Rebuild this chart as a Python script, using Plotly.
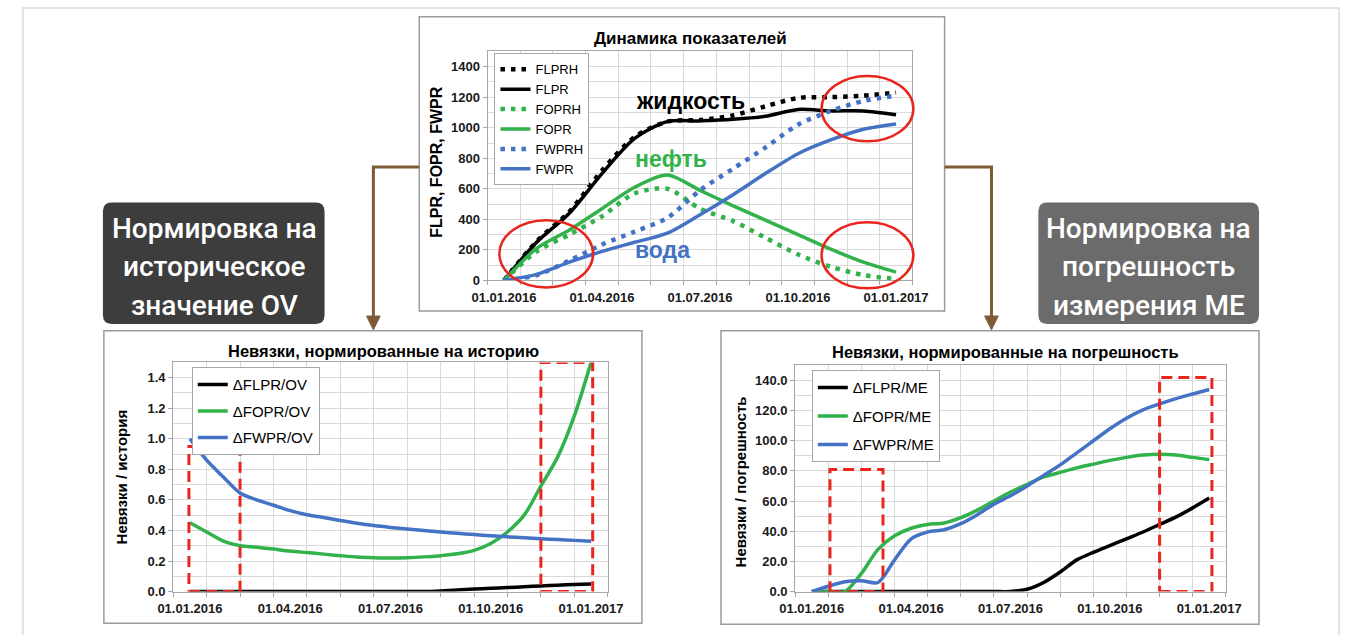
import plotly.graph_objects as go

W, H = 1359, 643

def fx(px):
    return px / W

def fy(py):
    return 1 - py / H

# ---------------- data ----------------
TICK_POS = [0, 3, 6, 9, 12]
TICK_TEXT = ["01.01.2016", "01.04.2016", "01.07.2016", "01.10.2016", "01.01.2017"]

MONTHS = list(range(13))  # months since 01.01.2016
FLPRH = [0, 255, 450, 720, 940, 1040, 1050, 1080, 1140, 1195, 1200, 1210, 1230]
FLPR = [0, 250, 440, 700, 930, 1040, 1045, 1055, 1075, 1120, 1110, 1110, 1085]
FOPRH = [0, 190, 300, 420, 570, 600, 470, 390, 280, 170, 90, 35, 10]
FOPR = [0, 210, 330, 470, 610, 690, 590, 490, 395, 300, 205, 120, 55]
FWPRH = [0, 35, 130, 235, 320, 410, 590, 730, 870, 1020, 1110, 1175, 1210]
FWPR = [0, 40, 120, 190, 250, 310, 430, 560, 700, 830, 920, 990, 1025]

HALF = [i / 2 for i in range(25)]
D_FLPR_OV = [0] * 15 + [0.004, 0.01, 0.016, 0.021, 0.026, 0.031, 0.037, 0.042, 0.046, 0.05]
D_FOPR_OV = [0.45, 0.39, 0.33, 0.30, 0.29, 0.278, 0.265, 0.255, 0.245, 0.235, 0.226, 0.222, 0.22,
             0.222, 0.227, 0.235, 0.247, 0.27, 0.315, 0.39, 0.5, 0.69, 0.88, 1.15, 1.5]
D_FWPR_OV = [1.0, 0.86, 0.75, 0.645, 0.6, 0.565, 0.53, 0.503, 0.485, 0.465, 0.447, 0.432, 0.42,
             0.41, 0.4, 0.39, 0.381, 0.373, 0.365, 0.358, 0.352, 0.346, 0.34, 0.335, 0.33]

D_FLPR_ME = [0] * 13 + [1.5, 6, 13, 21, 26, 30.5, 35, 39.5, 44.5, 49.5, 55.5, 62]
D_FOPR_ME = [0, 0, 0, 12, 28, 37, 42, 44.5, 45.5, 49, 54, 60, 66, 71, 76, 79, 82, 84.5, 87, 89,
             90.5, 91, 90.5, 89, 87.5]
D_FWPR_ME = [0, 3.5, 6.5, 7.2, 6, 21, 35, 39.5, 41, 45, 51, 58, 63.5, 70, 77, 84, 92, 100, 108,
             115, 120.5, 124.5, 128, 131, 134]

# ---------------- styling ----------------
BLACK = "#000000"
GREEN = "#32b24a"
BLUE = "#4472c4"
RED = "#e8261f"
BROWN = "#7d5b34"
GRID = "#d9d9d9"
AXIS = "#a6a6a6"
FONT = "Liberation Sans, Arial, sans-serif"

fig = go.Figure()

def line(x, y, name, color, dotted, xa, ya, leg, group):
    fig.add_trace(go.Scatter(
        x=x, y=y, name=name, mode="lines",
        line=dict(color=color, width=4.5 if dotted else 3.5,
                  dash="4.5px,6px" if dotted else "solid", shape="spline", smoothing=0.8),
        xaxis=xa, yaxis=ya, legend=leg, legendgroup=group, hoverinfo="skip"))

line(MONTHS, FLPRH, "FLPRH", BLACK, True, "x", "y", "legend", "a1")
line(MONTHS, FLPR, "FLPR", BLACK, False, "x", "y", "legend", "a2")
line(MONTHS, FOPRH, "FOPRH", GREEN, True, "x", "y", "legend", "a3")
line(MONTHS, FOPR, "FOPR", GREEN, False, "x", "y", "legend", "a4")
line(MONTHS, FWPRH, "FWPRH", BLUE, True, "x", "y", "legend", "a5")
line(MONTHS, FWPR, "FWPR", BLUE, False, "x", "y", "legend", "a6")

line(HALF, D_FLPR_OV, "ΔFLPR/OV", BLACK, False, "x2", "y2", "legend2", "b1")
line(HALF, D_FOPR_OV, "ΔFOPR/OV", GREEN, False, "x2", "y2", "legend2", "b2")
line(HALF, D_FWPR_OV, "ΔFWPR/OV", BLUE, False, "x2", "y2", "legend2", "b3")

line(HALF, D_FLPR_ME, "ΔFLPR/ME", BLACK, False, "x3", "y3", "legend3", "c1")
line(HALF, D_FOPR_ME, "ΔFOPR/ME", GREEN, False, "x3", "y3", "legend3", "c2")
line(HALF, D_FWPR_ME, "ΔFWPR/ME", BLUE, False, "x3", "y3", "legend3", "c3")

tickfont = dict(family=FONT, size=13, color="#1a1a1a", weight="bold")
minor_x = dict(tickvals=[i - 0.5 for i in range(14)], showgrid=True, gridcolor=GRID,
               gridwidth=1, ticks="outside", ticklen=4, tickcolor=AXIS)

def xaxis(dom):
    return dict(domain=dom, range=[-0.5, 12.5], tickmode="array", tickvals=TICK_POS,
                ticktext=TICK_TEXT, showgrid=False, zeroline=False, showline=True,
                linecolor=AXIS, linewidth=1, mirror=True, ticks="", tickfont=tickfont,
                ticklabelstandoff=5, minor=minor_x, fixedrange=True)

def yaxis(dom, rng, major, minor, fmt):
    return dict(domain=dom, range=rng, tickmode="array", tickvals=major, tickformat=fmt,
                showgrid=True, gridcolor=GRID, zeroline=False, showline=True, linecolor=AXIS,
                linewidth=1, mirror=True, ticks="outside", ticklen=4, tickcolor=AXIS,
                tickfont=tickfont,
                minor=dict(tickvals=minor, showgrid=True, gridcolor=GRID, gridwidth=1),
                fixedrange=True)

fig.update_layout(
    width=W, height=H, autosize=False,
    margin=dict(l=0, r=0, t=0, b=0),
    paper_bgcolor="white", plot_bgcolor="rgba(0,0,0,0)",
    font=dict(family=FONT, color="black"),
    xaxis=xaxis([fx(483), fx(918)]),
    yaxis=yaxis([fy(284), fy(52)], [0, 1500], list(range(0, 1401, 200)),
                list(range(100, 1501, 200)), "d"),
    xaxis2=xaxis([fx(161), fx(606)]) | dict(anchor="y2"),
    yaxis2=yaxis([fy(599), fy(367)], [0, 1.5], [i / 5 for i in range(8)],
                 [0.1 + i / 5 for i in range(8)], ".1f") | dict(anchor="x2"),
    xaxis3=xaxis([fx(798), fx(1239)]) | dict(anchor="y3"),
    yaxis3=yaxis([fy(599), fy(370)], [0, 150], list(range(0, 141, 20)),
                 list(range(10, 151, 20)), ".1f") | dict(anchor="x3"),
    legend=dict(x=fx(490), y=fy(54), xanchor="left", yanchor="top", bgcolor="white",
                bordercolor=AXIS, borderwidth=1, itemwidth=30, tracegroupgap=0,
                font=dict(family=FONT, size=13, color="black")),
    legend2=dict(x=fx(180), y=fy(372), xanchor="left", yanchor="top", bgcolor="white",
                 bordercolor=AXIS, borderwidth=1, itemwidth=30, tracegroupgap=4,
                 font=dict(family=FONT, size=15, color="black")),
    legend3=dict(x=fx(815), y=fy(375), xanchor="left", yanchor="top", bgcolor="white",
                 bordercolor=AXIS, borderwidth=1, itemwidth=30, tracegroupgap=6,
                 font=dict(family=FONT, size=15, color="black")),
    showlegend=True,
)

shapes = []
# outer light frame (no bottom edge)
shapes.append(dict(type="path", xref="paper", yref="paper",
                   path=f"M {fx(7)} {fy(643)} L {fx(7)} {fy(8)} L {fx(1355)} {fy(8)} L {fx(1355)} {fy(643)}",
                   line=dict(color="#e3e3e3", width=2), layer="below"))

# chart frames
for (x0, y0, x1, y1) in [(413, 17, 951, 315), (90, 335, 641, 631), (722, 335, 1273, 632)]:
    shapes.append(dict(type="rect", xref="paper", yref="paper", x0=fx(x0), x1=fx(x1),
                       y0=fy(y1), y1=fy(y0), line=dict(color="#9b9b9b", width=1.5),
                       fillcolor="rgba(0,0,0,0)", layer="below"))

# rounded label boxes
def rounded(x0, y0, x1, y1, r, color):
    p = (f"M {fx(x0 + r)} {fy(y0)} L {fx(x1 - r)} {fy(y0)} Q {fx(x1)} {fy(y0)} {fx(x1)} {fy(y0 + r)} "
         f"L {fx(x1)} {fy(y1 - r)} Q {fx(x1)} {fy(y1)} {fx(x1 - r)} {fy(y1)} "
         f"L {fx(x0 + r)} {fy(y1)} Q {fx(x0)} {fy(y1)} {fx(x0)} {fy(y1 - r)} "
         f"L {fx(x0)} {fy(y0 + r)} Q {fx(x0)} {fy(y0)} {fx(x0 + r)} {fy(y0)} Z")
    return dict(type="path", xref="paper", yref="paper", path=p, fillcolor=color,
                line=dict(width=0), layer="above")

shapes.append(rounded(89, 205, 316, 328, 9, "#3d3d3d"))
shapes.append(rounded(1047, 205, 1273, 328, 9, "#6b6b6b"))

# brown connector arrows
for (xs, xe) in [(413, 366), (951, 999)]:
    shapes.append(dict(type="path", xref="paper", yref="paper",
                       path=f"M {fx(xs)} {fy(169)} L {fx(xe)} {fy(169)} L {fx(xe)} {fy(322)}",
                       line=dict(color=BROWN, width=3), layer="above"))
    shapes.append(dict(type="path", xref="paper", yref="paper",
                       path=f"M {fx(xe - 7)} {fy(320)} L {fx(xe + 7)} {fy(320)} L {fx(xe)} {fy(334)} Z",
                       fillcolor=BROWN, line=dict(color=BROWN, width=1), layer="above"))

# red ellipses on top chart
for (x0, y0, x1, y1) in [(495, 223, 591, 291), (825, 77, 919, 143), (825, 225, 919, 292)]:
    shapes.append(dict(type="circle", xref="paper", yref="paper", x0=fx(x0), x1=fx(x1),
                       y0=fy(y1), y1=fy(y0), line=dict(color=RED, width=2.5), layer="above"))

# red dashed rectangles (data coordinates)
for (xr, yr, x0, x1, y1) in [("x2", "y2", -0.03, 1.5, 0.95), ("x2", "y2", 10.5, 12.05, 1.5),
                              ("x3", "y3", 0.55, 2.15, 81), ("x3", "y3", 10.5, 12.08, 142)]:
    shapes.append(dict(type="rect", xref=xr, yref=yr, x0=x0, x1=x1, y0=0, y1=y1,
                       line=dict(color=RED, width=3, dash="11px,6px"),
                       fillcolor="rgba(0,0,0,0)", layer="above"))

fig.update_layout(shapes=shapes)

ann = []
def text(x, y, s, size, color="black", weight="bold", angle=0, family=FONT):
    ann.append(dict(x=fx(x), y=fy(y), xref="paper", yref="paper", text=s, showarrow=False,
                    xanchor="center", yanchor="middle", textangle=angle,
                    font=dict(family=family, size=size, color=color, weight=weight)))

text(691, 39, "Динамика показателей", 17)
text(376, 355, "Невязки, нормированные на историю", 16.5)
text(1013, 356, "Невязки, нормированные на погрешность", 16.5)
text(431, 164, "FLPR, FOPR, FWPR", 16, angle=-90)
text(109, 483, "Невязки / история", 15, angle=-90)
text(742, 488, "Невязки / погрешность", 15, angle=-90)

text(691, 102, "жидкость", 23, BLACK)
text(671, 161, "нефть", 23, GREEN)
text(662, 253, "вода", 23, BLUE)

for i, s in enumerate(["Нормировка на", "историческое", "значение OV"]):
    text(203, 231 + 39 * i, s, 28, "white", weight=500, family="Roboto")
for i, s in enumerate(["Нормировка на", "погрешность", "измерения ME"]):
    text(1160, 231 + 39 * i, s, 28, "white", weight=500, family="Roboto")

fig.update_layout(annotations=ann)

fig.write_html("out.html")
